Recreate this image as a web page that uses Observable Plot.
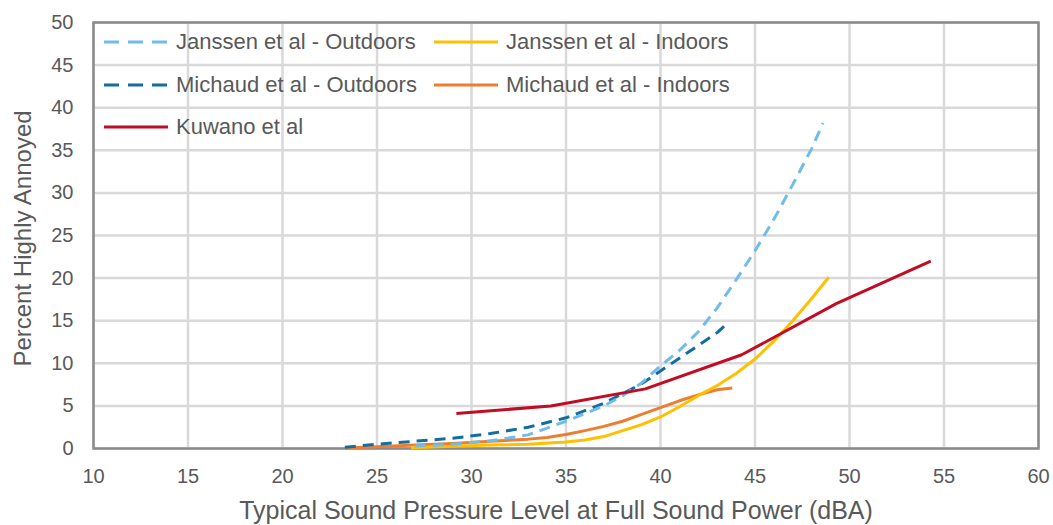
<!DOCTYPE html>
<html>
<head>
<meta charset="utf-8">
<script src="https://cdn.jsdelivr.net/npm/d3@7"></script>
<script src="https://cdn.jsdelivr.net/npm/@observablehq/plot@0.6"></script>
<style>
  html, body { margin: 0; padding: 0; background: #fff; }
  #chart { position: relative; width: 1053px; height: 525px; font-family: "Liberation Sans", Arial, sans-serif; color: #595959; }
  #legend { position: absolute; left: 0; top: 0; }
  .item { position: absolute; display: flex; align-items: center; height: 26px; font-size: 22px; white-space: nowrap; }
  .item svg { margin-right: 8px; }
</style>
</head>
<body>
<div id="chart"><div id="legend"></div></div>
<script>
// Percent highly annoyed vs. typical sound pressure level (dBA)
const janssenOutX = [27, 29, 31, 33, 35, 36, 37, 38, 39, 40, 41, 42, 43, 44, 45, 46, 47, 48, 48.6];
const janssenOutY = [0.3, 0.5, 0.9, 1.6, 3.2, 4.1, 5.0, 6.2, 7.7, 9.7, 11.5, 13.7, 16.5, 19.8, 23.2, 26.9, 31.0, 35.2, 38.2];

const janssenInX = [26.8, 29, 31, 33, 35, 36, 37, 38, 39, 40, 41, 42, 43, 44, 45, 46, 47, 48, 48.9];
const janssenInY = [0.1, 0.25, 0.4, 0.5, 0.75, 1.0, 1.4, 2.1, 2.8, 3.7, 4.9, 6.2, 7.4, 8.8, 10.5, 12.6, 15.0, 17.6, 20.1];

const michaudOutX = [23.3, 25, 27, 29, 31, 33, 35, 37, 39, 41, 43, 43.6];
const michaudOutY = [0.15, 0.5, 0.85, 1.2, 1.75, 2.5, 3.6, 5.3, 7.6, 10.6, 13.6, 14.8];

const michaudInX = [23.3, 25, 27, 29, 31, 33, 34, 35, 36, 37, 38, 39, 40, 41, 42, 43, 43.8];
const michaudInY = [0.05, 0.2, 0.4, 0.6, 0.85, 1.1, 1.3, 1.65, 2.1, 2.6, 3.2, 4.0, 4.8, 5.6, 6.3, 6.9, 7.1];

const kuwanoX = [29.2, 34.2, 39.2, 44.3, 49.3, 54.3];
const kuwanoY = [4.1, 5.0, 7.0, 11.0, 17.0, 22.0];

const xTicks = [10, 15, 20, 25, 30, 35, 40, 45, 50, 55, 60];
const yTicks = [0, 5, 10, 15, 20, 25, 30, 35, 40, 45, 50];
const xTitle = "Typical Sound Pressure Level at Full Sound Power (dBA)";
const yTitle = "Percent Highly Annoyed";

const series = [
  {name: "Janssen et al - Outdoors", x: janssenOutX, y: janssenOutY, color: "#71bce9", dash: true},
  {name: "Janssen et al - Indoors", x: janssenInX, y: janssenInY, color: "#ffc000", dash: false},
  {name: "Michaud et al - Outdoors", x: michaudOutX, y: michaudOutY, color: "#136e9f", dash: true},
  {name: "Michaud et al - Indoors", x: michaudInX, y: michaudInY, color: "#ed7d31", dash: false},
  {name: "Kuwano et al", x: kuwanoX, y: kuwanoY, color: "#c00d24", dash: false}
];

// draw order: later series on top
const drawOrder = ["Michaud et al - Indoors", "Janssen et al - Indoors", "Michaud et al - Outdoors", "Janssen et al - Outdoors", "Kuwano et al"];

const lineMarks = drawOrder.map(name => {
  const s = series.find(d => d.name === name);
  const pts = s.x.map((x, i) => ({x, y: s.y[i]}));
  return Plot.line(pts, {
    x: "x", y: "y", stroke: s.color, strokeWidth: 3,
    strokeDasharray: s.dash ? "11,7" : null, strokeLinecap: "butt", strokeLinejoin: "round"
  });
});

const plot = Plot.plot({
  width: 1053,
  height: 525,
  marginLeft: 93,
  marginRight: 15,
  marginTop: 22,
  marginBottom: 77,
  style: {fontFamily: "'Liberation Sans', Arial, sans-serif", fontSize: "20px", color: "#595959", background: "transparent"},
  x: {domain: [10, 60]},
  y: {domain: [0, 50]},
  marks: [
    Plot.gridX(xTicks, {stroke: "#d9d9d9", strokeOpacity: 1, strokeWidth: 2.5}),
    Plot.gridY(yTicks, {stroke: "#d9d9d9", strokeOpacity: 1, strokeWidth: 2.5}),
    Plot.frame({stroke: "#8a8a8a", strokeWidth: 2.5}),
    Plot.axisX(xTicks, {tickSize: 0, tickPadding: 20, label: null, fill: "#595959"}),
    Plot.axisY(yTicks, {tickSize: 0, tickPadding: 20, label: null, fill: "#595959"}),
    ...lineMarks,
    Plot.text([xTitle], {frameAnchor: "bottom", lineAnchor: "top", dy: 53, dx: -10, fontSize: 25, fill: "#595959"}),
    Plot.text([yTitle], {frameAnchor: "left", textAnchor: "middle", lineAnchor: "middle", rotate: -90, dx: -70, dy: 3, fontSize: 24, fill: "#595959"})
  ]
});
document.getElementById("chart").prepend(plot);

// legend: two columns, three rows, drawn over the plot area
const legendOrder = ["Janssen et al - Outdoors", "Janssen et al - Indoors", "Michaud et al - Outdoors", "Michaud et al - Indoors", "Kuwano et al"];
const colLeft = [104, 434];
const rowCenter = [42, 84.5, 127];
const legend = document.getElementById("legend");
legendOrder.forEach((name, i) => {
  const s = series.find(d => d.name === name);
  const div = document.createElement("div");
  div.className = "item";
  div.style.left = colLeft[i % 2] + "px";
  div.style.top = (rowCenter[Math.floor(i / 2)] - 13) + "px";
  const ns = "http://www.w3.org/2000/svg";
  const svg = document.createElementNS(ns, "svg");
  svg.setAttribute("width", 64);
  svg.setAttribute("height", 10);
  const ln = document.createElementNS(ns, "line");
  ln.setAttribute("x1", 0); ln.setAttribute("x2", 64);
  ln.setAttribute("y1", 5); ln.setAttribute("y2", 5);
  ln.setAttribute("stroke", s.color);
  ln.setAttribute("stroke-width", 3);
  if (s.dash) ln.setAttribute("stroke-dasharray", "15,9");
  svg.appendChild(ln);
  div.appendChild(svg);
  const span = document.createElement("span");
  span.textContent = s.name;
  div.appendChild(span);
  legend.appendChild(div);
});
</script>
</body>
</html>
